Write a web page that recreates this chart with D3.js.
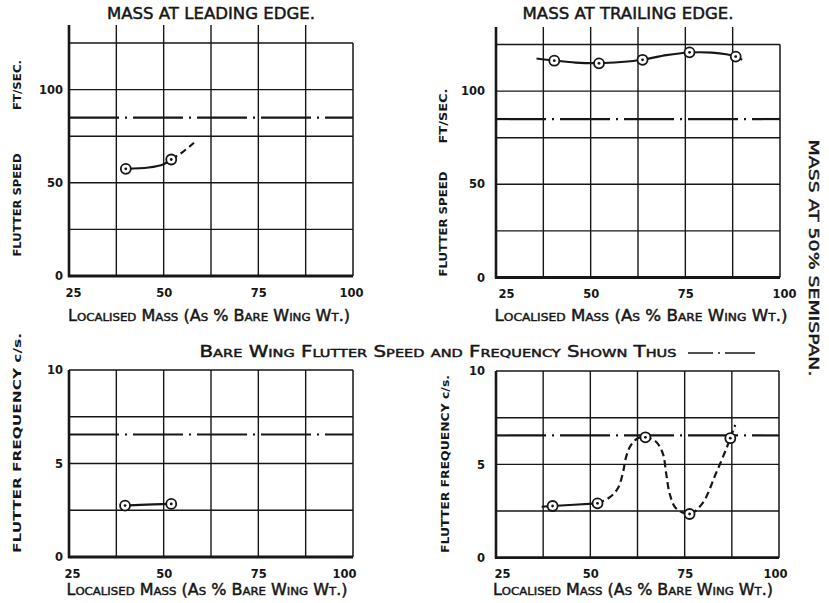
<!DOCTYPE html>
<html><head><meta charset="utf-8">
<script src="https://cdn.jsdelivr.net/npm/d3@7"></script>
<style>
body{margin:0;background:#fff}
svg{display:block}
text{font-family:"DejaVu Sans",sans-serif;fill:#161616}
</style>
</head><body>
<svg id="c" width="829" height="603"></svg>
<script>
// ---- axis ticks / grids ----
const massTicks = [25, 50, 75, 100];
const massGrid = [37.5, 50, 62.5, 75, 87.5];
const speedTicks = [0, 50, 100];
const speedGrid = [25, 50, 75, 100, 125];
const freqTicks = [0, 5, 10];
const freqGrid = [2.5, 5, 7.5, 10];

// ---- bare wing reference values ----
const bareSpeed = 85;
const bareFreq = 6.55;

// ---- mass at leading edge: flutter speed ----
const leSpeedMass = [40, 52];
const leSpeedVal = [57.5, 62.5];
const leSpeedCurveMass = [40, 46, 50, 52];
const leSpeedCurveVal = [57.5, 58.2, 60, 62.5];
const leSpeedDashMass = [52, 55, 58];
const leSpeedDashVal = [62.5, 66.5, 71.5];

// ---- mass at trailing edge: flutter speed ----
const teSpeedMass = [40.4, 52.2, 63.7, 76.1, 88.3];
const teSpeedVal = [116.3, 114.9, 116.8, 120.8, 118.5];
const teSpeedCurveMass = [35.7, 40.4, 46, 52.2, 58, 63.7, 70, 76.1, 82, 88.3, 90];
const teSpeedCurveVal = [117.5, 116.4, 115.3, 115, 115.6, 116.8, 119.3, 120.7, 120.6, 118.6, 116.8];

// ---- mass at leading edge: flutter frequency ----
const leFreqMass = [39.8, 52];
const leFreqVal = [2.75, 2.84];
const leFreqCurveMass = [38.5, 39.8, 52];
const leFreqCurveVal = [2.72, 2.75, 2.84];

// ---- mass at trailing edge: flutter frequency ----
const teFreqMass = [40, 51.9, 64.6, 76.3, 87.1];
const teFreqVal = [2.77, 2.91, 6.45, 2.34, 6.4];
const teFreqSolidMass = [37.1, 40, 51.9];
const teFreqSolidVal = [2.73, 2.77, 2.91];
const teFreqDashMass = [51.9, 55.1, 57.3, 58.6, 59.5, 60.8, 62.6, 64.6, 67.4, 69.2, 70.1, 71.0, 72.7, 76.3, 79.7, 83.3, 85.9, 87.1, 88.4];
const teFreqDashVal = [2.91, 3.23, 3.72, 4.52, 5.41, 6.04, 6.40, 6.45, 6.21, 5.59, 4.52, 3.45, 2.65, 2.34, 2.91, 4.52, 5.77, 6.40, 7.11];

const svg = d3.select('#c');
const INK = '#161616';

function panel(o) {
  const x = d3.scaleLinear([25, 100], [o.x0, o.x1]);
  const y = d3.scaleLinear([0, o.ymax], [o.y0, o.y1]);
  const g = svg.append('g');
  g.selectAll('.hg').data(o.hgrid).join('line')
    .attr('x1', o.x0).attr('x2', o.x1).attr('y1', d => y(d)).attr('y2', d => y(d))
    .attr('stroke', INK).attr('stroke-width', 1.4);
  g.selectAll('.vg').data(massGrid).join('line')
    .attr('x1', d => x(d)).attr('x2', d => x(d)).attr('y1', o.top).attr('y2', y(0))
    .attr('stroke', INK).attr('stroke-width', 1.4);
  g.append('line').attr('x1', o.x1).attr('x2', o.x1).attr('y1', y(o.ymax)).attr('y2', y(0))
    .attr('stroke', INK).attr('stroke-width', 1.5);
  g.append('line').attr('x1', o.x0).attr('x2', o.x0).attr('y1', o.top).attr('y2', y(0) + 1)
    .attr('stroke', INK).attr('stroke-width', 2.6);
  g.append('line').attr('x1', o.x0 - 1).attr('x2', o.x1).attr('y1', y(0)).attr('y2', y(0))
    .attr('stroke', INK).attr('stroke-width', 2.8);
  g.append('line').attr('x1', o.x0).attr('x2', o.x1).attr('y1', y(o.bare)).attr('y2', y(o.bare))
    .attr('stroke', INK).attr('stroke-width', 2.2).attr('stroke-dasharray', '50,6,2,6');

  const ax = g.append('g').attr('transform', `translate(0,${y(0)})`)
    .call(d3.axisBottom(x).tickValues(massTicks).tickSize(0).tickPadding(12.5).tickFormat(d3.format('d')));
  ax.select('.domain').remove();
  ax.selectAll('text').attr('font-size', 11.5).attr('font-weight', 'bold')
    .attr('font-family', '"DejaVu Sans",sans-serif').attr('fill', INK)
    .attr('dx', d => d === 25 ? o.dx25 : (d === 100 ? o.dx100 : 0));
  const ay = g.append('g').attr('transform', `translate(${o.x0},0)`)
    .call(d3.axisLeft(y).tickValues(o.yticks).tickSize(0).tickPadding(o.ypad).tickFormat(d3.format('d')));
  ay.select('.domain').remove();
  ay.selectAll('text').attr('font-size', 11.5).attr('font-weight', 'bold')
    .attr('font-family', '"DejaVu Sans",sans-serif').attr('fill', INK);

  return {x, y, g};
}

function curve(p, xs, ys, dashed) {
  const pts = xs.map((m, i) => [m, ys[i]]);
  p.g.append('path').datum(pts)
    .attr('d', d3.line().x(d => p.x(d[0])).y(d => p.y(d[1])).curve(d3.curveCatmullRom.alpha(0.5)))
    .attr('fill', 'none').attr('stroke', INK).attr('stroke-width', 2.2)
    .attr('stroke-dasharray', dashed ? '7,4' : null);
}
function markers(p, xs, ys) {
  const pts = xs.map((m, i) => [m, ys[i]]);
  const m = p.g.selectAll('.mk').data(pts).join('g')
    .attr('transform', d => `translate(${p.x(d[0])},${p.y(d[1])})`);
  m.append('circle').attr('r', 5).attr('fill', '#fff').attr('stroke', INK).attr('stroke-width', 1.8);
  m.append('circle').attr('r', 1.4).attr('fill', INK);
}

const tl = panel({x0: 69, x1: 353, y0: 276, y1: 43, ymax: 125, top: 25, hgrid: speedGrid, yticks: speedTicks, bare: bareSpeed, ypad: 6, dx25: 4, dx100: -2});
curve(tl, leSpeedCurveMass, leSpeedCurveVal, false);
curve(tl, leSpeedDashMass, leSpeedDashVal, true);
markers(tl, leSpeedMass, leSpeedVal);

const tr = panel({x0: 496, x1: 780, y0: 277.5, y1: 44.5, ymax: 125, top: 27, hgrid: speedGrid, yticks: speedTicks, bare: bareSpeed, ypad: 11, dx25: 10, dx100: 4});
curve(tr, teSpeedCurveMass, teSpeedCurveVal, false);
markers(tr, teSpeedMass, teSpeedVal);

const bl = panel({x0: 69, x1: 353, y0: 557, y1: 370, ymax: 10, top: 370, hgrid: freqGrid, yticks: freqTicks, bare: bareFreq, ypad: 6, dx25: 3, dx100: -9});
curve(bl, leFreqCurveMass, leFreqCurveVal, false);
markers(bl, leFreqMass, leFreqVal);

const br = panel({x0: 496, x1: 779, y0: 557.7, y1: 371, ymax: 10, top: 371, hgrid: freqGrid, yticks: freqTicks, bare: bareFreq, ypad: 11, dx25: 6, dx100: -4});
curve(br, teFreqSolidMass, teFreqSolidVal, false);
curve(br, teFreqDashMass, teFreqDashVal, true);
markers(br, teFreqMass, teFreqVal);

// ---- texts ----
function txt(s, x, y, o) {
  const t = svg.append('text').attr('x', x).attr('y', y).text(s)
    .attr('font-size', o.size || 13).attr('text-anchor', 'middle')
    .attr('stroke', INK).attr('stroke-width', o.sw === undefined ? 0.45 : o.sw);
  if (o.bold) t.attr('font-weight', 'bold');
  if (o.len) t.attr('textLength', o.len).attr('lengthAdjust', 'spacingAndGlyphs');
  if (o.sc) t.style('font-variant', 'small-caps');
  if (o.rot) t.attr('transform', `rotate(${o.rot},${x},${y})`);
  return t;
}
txt('MASS  AT  LEADING  EDGE.', 211, 19, {size: 15, len: 208});
txt('MASS  AT  TRAILING  EDGE.', 628, 19, {size: 15, len: 211});

const xTitle = 'Localised  Mass  (As  %  Bare  Wing  Wt.)';
txt(xTitle, 209, 321, {size: 15, len: 282, sc: true});
txt(xTitle, 641, 321, {size: 15, len: 293, sc: true});
txt(xTitle, 207, 595, {size: 15, len: 281, sc: true});
txt(xTitle, 633, 595, {size: 15, len: 280, sc: true});

txt('Bare  Wing  Flutter  Speed  and  Frequency  Shown  Thus', 438, 357, {size: 15, len: 477, sc: true});
svg.append('line').attr('x1', 688).attr('x2', 758).attr('y1', 353).attr('y2', 353)
  .attr('stroke', INK).attr('stroke-width', 1.6).attr('stroke-dasharray', '25,5,2,5,30,4,2');

txt('FLUTTER  SPEED', 21, 205, {size: 11, len: 103, rot: -90, bold: true, sw: 0});
txt('FT/SEC.', 21, 85, {size: 11, len: 50, rot: -90, bold: true, sw: 0});
txt('FLUTTER  SPEED', 447, 224, {size: 11, len: 105, rot: -90, bold: true, sw: 0});
txt('FT/SEC.', 447, 116, {size: 11, len: 55, rot: -90, bold: true, sw: 0});
txt('FLUTTER  FREQUENCY  c/s.', 21, 443, {size: 11, len: 220, rot: -90, bold: true, sw: 0});
txt('FLUTTER  FREQUENCY  c/s.', 449, 464, {size: 11, len: 178, rot: -90, bold: true, sw: 0});

txt('MASS   AT   50%   SEMISPAN.', 809, 258, {size: 14, len: 237, rot: 90});
</script>
</body></html>
